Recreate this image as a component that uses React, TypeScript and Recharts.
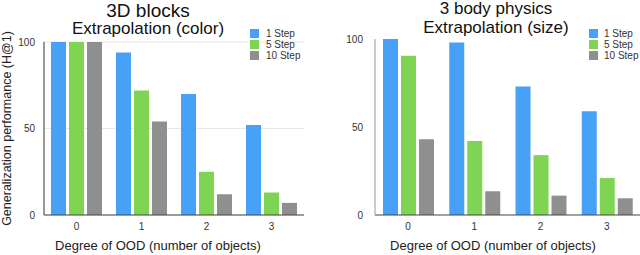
import React from 'react';
import { BarChart, Bar, XAxis, YAxis, CartesianGrid } from 'recharts';

const categories = ['0', '1', '2', '3'];
const seriesNames = ['1 Step', '5 Step', '10 Step'];

const blocksStep1 = [100, 94, 70, 52];
const blocksStep5 = [100, 72, 25, 13];
const blocksStep10 = [100, 54, 12, 7];

const physicsStep1 = [100, 98, 73, 59];
const physicsStep5 = [90.5, 42, 34, 21];
const physicsStep10 = [43, 13.5, 11, 9.5];

const yTicks = [0, 50, 100];

const COLORS = ['#47a1f6', '#7fd553', '#8f8f8f'];
const FONT = '"Liberation Sans", Arial, Helvetica, sans-serif';

const buildData = (a: number[], b: number[], c: number[]) =>
  categories.map((cat, i) => ({ cat, s1: a[i], s5: b[i], s10: c[i] }));

const blocksData = buildData(blocksStep1, blocksStep5, blocksStep10);
const physicsData = buildData(physicsStep1, physicsStep5, physicsStep10);

type PanelProps = {
  data: any[];
  left: number;
  top: number;
  right: number;
  yWidth: number;
  tickMargin: number;
  grid: boolean;
  yAxisColor: string;
};

const Panel = ({ data, left, top, right, yWidth, tickMargin, grid, yAxisColor }: PanelProps) => (
  <div style={{ position: 'absolute', left, top: 0 }}>
    <BarChart
      width={320}
      height={255}
      data={data}
      margin={{ top, right, bottom: 20, left: 0 }}
      barSize={15}
      barGap={3}
    >
      {grid && <CartesianGrid vertical={false} stroke="#e8e8e8" />}
      <XAxis
        dataKey="cat"
        height={20}
        tickLine={false}
        axisLine={{ stroke: '#444' }}
        tick={{ fontSize: 10, fill: '#333', fontFamily: FONT }}
      />
      <YAxis
        width={yWidth}
        domain={[0, 100]}
        ticks={yTicks}
        tickLine={false}
        tickSize={0}
        tickMargin={tickMargin}
        axisLine={{ stroke: yAxisColor }}
        tick={{ fontSize: 10, fill: '#333', fontFamily: FONT }}
      />
      <Bar dataKey="s1" fill={COLORS[0]} isAnimationActive={false} />
      <Bar dataKey="s5" fill={COLORS[1]} isAnimationActive={false} />
      <Bar dataKey="s10" fill={COLORS[2]} isAnimationActive={false} />
    </BarChart>
  </div>
);

const LegendBlock = ({ x, textX }: { x: number; textX: number }) => (
  <g>
    {seriesNames.map((name, i) => (
      <g key={name}>
        <rect x={x} y={29 + i * 11} width={9} height={9} fill={COLORS[i]} />
        <text x={textX} y={37.3 + i * 11} fontSize={10} fill="#333" fontFamily={FONT}>
          {name}
        </text>
      </g>
    ))}
  </g>
);

export default function App() {
  return (
    <div
      style={{
        position: 'fixed',
        left: 0,
        top: 0,
        width: 640,
        height: 255,
        background: '#fff',
        overflow: 'hidden',
        fontFamily: FONT,
      }}
    >
      <Panel data={blocksData} left={0} top={42} right={16} yWidth={44} tickMargin={9} grid={true} yAxisColor="#333" />
      <Panel data={physicsData} left={320} top={39} right={0} yWidth={55} tickMargin={12} grid={false} yAxisColor="#999" />
      <svg
        width={640}
        height={255}
        style={{ position: 'absolute', left: 0, top: 0, pointerEvents: 'none' }}
      >
        <text x={148} y={17} fontSize={19} textAnchor="middle" fill="#111" fontFamily={FONT}>
          3D blocks
        </text>
        <text x={148} y={34} fontSize={17} textAnchor="middle" fill="#111" fontFamily={FONT}>
          Extrapolation (color)
        </text>
        <text x={496} y={14} fontSize={17} textAnchor="middle" fill="#111" fontFamily={FONT}>
          3 body physics
        </text>
        <text x={496} y={33} fontSize={17} textAnchor="middle" fill="#111" fontFamily={FONT}>
          Extrapolation (size)
        </text>
        <text
          transform="translate(10.5,128.5) rotate(-90)"
          fontSize={12.5}
          textAnchor="middle"
          fill="#222"
          fontFamily={FONT}
        >
          Generalization performance (H@1)
        </text>
        <text x={158} y={250} fontSize={13} textAnchor="middle" fill="#222" fontFamily={FONT}>
          Degree of OOD (number of objects)
        </text>
        <text x={493} y={250} fontSize={13} textAnchor="middle" fill="#222" fontFamily={FONT}>
          Degree of OOD (number of objects)
        </text>
        <LegendBlock x={250} textX={266} />
        <LegendBlock x={589} textX={604} />
      </svg>
    </div>
  );
}
